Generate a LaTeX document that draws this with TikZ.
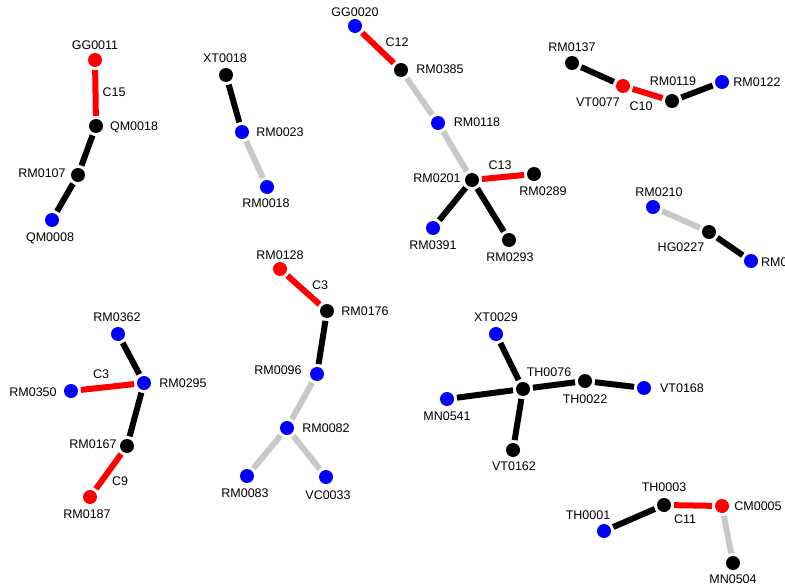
\documentclass[tikz,border=0pt]{standalone}
\usepackage{fontspec}
\setmainfont{Liberation Sans}
\definecolor{nred}{RGB}{255,0,0}
\definecolor{nblue}{RGB}{0,0,255}
\definecolor{egray}{RGB}{200,200,200}
\begin{document}
\begin{tikzpicture}[x=1pt,y=-1pt,
  vtx/.style={circle,inner sep=0pt,minimum size=14pt,outer sep=3pt},
  bk/.style={vtx,fill=black},
  rd/.style={vtx,fill=nred},
  bl/.style={vtx,fill=nblue},
  lbl/.style={inner sep=0pt,font=\fontsize{12.5}{14}\selectfont},
  eb/.style={line width=6pt,black},
  er/.style={line width=6pt,nred},
  eg/.style={line width=6pt,egray}]
\useasboundingbox (0,0) rectangle (785,586);
\clip (0,0) rectangle (785,586);
% cluster 1
\node[rd] (GG0011) at (95,60) {};
\node[bk] (QM0018) at (96,126) {};
\node[bk] (RM0107) at (78,175) {};
\node[bl] (QM0008) at (52,220) {};
\draw[er] (GG0011) -- (QM0018);
\draw[eb] (QM0018) -- (RM0107);
\draw[eb] (RM0107) -- (QM0008);
\node[lbl] (tGG0011) at (95,45) {GG0011};
\node[lbl] (tQM0018) at (134,127) {QM0018};
\node[lbl] (tRM0107) at (42,173) {RM0107};
\node[lbl] (tQM0008) at (50,238) {QM0008};
\node[lbl] (cC15) at (114,92) {C15};
% cluster 2
\node[bk] (XT0018) at (226,75) {};
\node[bl] (RM0023) at (242,132) {};
\node[bl] (RM0018) at (267,187) {};
\draw[eb] (XT0018) -- (RM0023);
\draw[eg] (RM0023) -- (RM0018);
\node[lbl] (tXT0018) at (225,58) {XT0018};
\node[lbl] (tRM0023) at (280,132) {RM0023};
\node[lbl] (tRM0018) at (266,203) {RM0018};
% cluster 3
\node[bl] (GG0020) at (355,26) {};
\node[bk] (RM0385) at (401,70) {};
\node[bl] (RM0118) at (438,123) {};
\node[bk] (RM0201) at (472,180) {};
\node[bk] (RM0289) at (534,174) {};
\node[bl] (RM0391) at (433,228) {};
\node[bk] (RM0293) at (509,240) {};
\draw[er] (GG0020) -- (RM0385);
\draw[eg] (RM0385) -- (RM0118);
\draw[eg] (RM0118) -- (RM0201);
\draw[er] (RM0201) -- (RM0289);
\draw[eb] (RM0201) -- (RM0391);
\draw[eb] (RM0201) -- (RM0293);
\node[lbl] (tGG0020) at (355,12) {GG0020};
\node[lbl] (tRM0385) at (440,69) {RM0385};
\node[lbl] (tRM0118) at (477,122) {RM0118};
\node[lbl] (tRM0201) at (437,178) {RM0201};
\node[lbl] (tRM0289) at (543,191) {RM0289};
\node[lbl] (tRM0391) at (433,245) {RM0391};
\node[lbl] (tRM0293) at (510,257) {RM0293};
\node[lbl] (cC12) at (397,42) {C12};
\node[lbl] (cC13) at (500,165) {C13};
% cluster 4
\node[bk] (RM0137) at (572,63) {};
\node[rd] (VT0077) at (623,86) {};
\node[bk] (RM0119) at (672,101) {};
\node[bl] (RM0122) at (722,82) {};
\draw[eb] (RM0137) -- (VT0077);
\draw[er] (VT0077) -- (RM0119);
\draw[eb] (RM0119) -- (RM0122);
\node[lbl] (tRM0137) at (572,47) {RM0137};
\node[lbl] (tVT0077) at (598,102) {VT0077};
\node[lbl] (tRM0119) at (673,81) {RM0119};
\node[lbl] (tRM0122) at (757,82) {RM0122};
\node[lbl] (cC10) at (641,106) {C10};
% cluster 5
\node[bl] (RM0210) at (653,207) {};
\node[bk] (HG0227) at (709,232) {};
\node[bl] (RM0x) at (751,261) {};
\draw[eg] (RM0210) -- (HG0227);
\draw[eb] (HG0227) -- (RM0x);
\node[lbl] (tRM0210) at (659,192) {RM0210};
\node[lbl] (tHG0227) at (681,247) {HG0227};
\node[lbl,anchor=west] (tRM0x) at (761,262) {RM0};
% cluster 6
\node[bl] (RM0362) at (118,334) {};
\node[bl] (RM0295) at (144,383) {};
\node[bl] (RM0350) at (71,391) {};
\node[bk] (RM0167) at (127,446) {};
\node[rd] (RM0187) at (90,497) {};
\draw[eb] (RM0362) -- (RM0295);
\draw[er] (RM0350) -- (RM0295);
\draw[eb] (RM0295) -- (RM0167);
\draw[er] (RM0167) -- (RM0187);
\node[lbl] (tRM0362) at (117,317) {RM0362};
\node[lbl] (tRM0295) at (183,383) {RM0295};
\node[lbl] (tRM0350) at (33,392) {RM0350};
\node[lbl] (tRM0167) at (93,444) {RM0167};
\node[lbl] (tRM0187) at (87,514) {RM0187};
\node[lbl] (cC3a) at (101,374) {C3};
\node[lbl] (cC9) at (120,481) {C9};
% cluster 7
\node[rd] (RM0128) at (280,269) {};
\node[bk] (RM0176) at (327,311) {};
\node[bl] (RM0096) at (317,374) {};
\node[bl] (RM0082) at (287,428) {};
\node[bl] (RM0083) at (247,476) {};
\node[bl] (VC0033) at (326,477) {};
\draw[er] (RM0128) -- (RM0176);
\draw[eb] (RM0176) -- (RM0096);
\draw[eg] (RM0096) -- (RM0082);
\draw[eg] (RM0082) -- (RM0083);
\draw[eg] (RM0082) -- (VC0033);
\node[lbl] (tRM0128) at (280,255) {RM0128};
\node[lbl] (tRM0176) at (365,311) {RM0176};
\node[lbl] (tRM0096) at (278,370) {RM0096};
\node[lbl] (tRM0082) at (326,428) {RM0082};
\node[lbl] (tRM0083) at (245,493) {RM0083};
\node[lbl] (tVC0033) at (328,495) {VC0033};
\node[lbl] (cC3b) at (320,285) {C3};
% cluster 8
\node[bl] (XT0029) at (496,334) {};
\node[bk] (TH0076) at (523,389) {};
\node[bl] (MN0541) at (447,399) {};
\node[bk] (TH0022) at (585,381) {};
\node[bl] (VT0168) at (644,388) {};
\node[bk] (VT0162) at (513,450) {};
\draw[eb] (XT0029) -- (TH0076);
\draw[eb] (MN0541) -- (TH0076);
\draw[eb] (TH0076) -- (TH0022);
\draw[eb] (TH0022) -- (VT0168);
\draw[eb] (TH0076) -- (VT0162);
\node[lbl] (tXT0029) at (496,317) {XT0029};
\node[lbl] (tTH0076) at (549,372) {TH0076};
\node[lbl] (tMN0541) at (447,416) {MN0541};
\node[lbl] (tTH0022) at (585,399) {TH0022};
\node[lbl] (tVT0168) at (682,388) {VT0168};
\node[lbl] (tVT0162) at (514,466) {VT0162};
% cluster 9
\node[bl] (TH0001) at (604,531) {};
\node[bk] (TH0003) at (664,505) {};
\node[rd] (CM0005) at (722,506) {};
\node[bk] (MN0504) at (733,563) {};
\draw[eb] (TH0001) -- (TH0003);
\draw[er] (TH0003) -- (CM0005);
\draw[eg] (CM0005) -- (MN0504);
\node[lbl] (tTH0001) at (588,515) {TH0001};
\node[lbl] (tTH0003) at (664,487) {TH0003};
\node[lbl] (tCM0005) at (758,506) {CM0005};
\node[lbl] (tMN0504) at (733,579) {MN0504};
\node[lbl] (cC11) at (685,519) {C11};
\end{tikzpicture}
\end{document}
